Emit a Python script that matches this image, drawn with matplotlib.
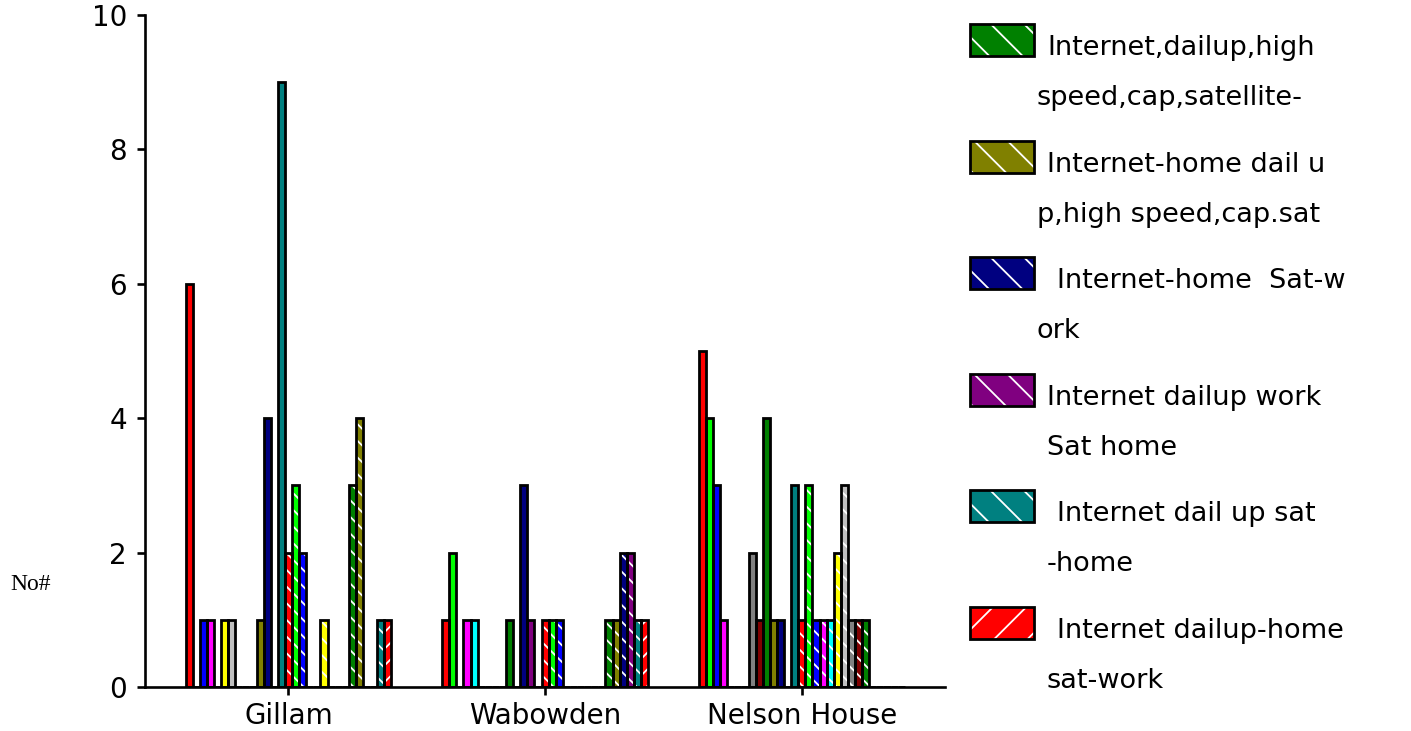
import numpy as np
import matplotlib
matplotlib.use("Agg")
import matplotlib.pyplot as plt
from matplotlib.patches import Rectangle

categories = ["Gillam", "Wabowden", "Nelson House"]

# one value per series (29 series, Excel order), zeros are simply not visible
gillam   = [6, 0, 1, 1, 0, 1, 1, 0, 0, 0, 1, 4, 0, 9,
            2, 3, 2, 0, 0, 1, 0, 0, 0, 3, 4, 0, 0, 1, 1]
wabowden = [1, 2, 0, 1, 1, 0, 0, 0, 0, 1, 0, 3, 1, 0,
            1, 1, 1, 0, 0, 0, 0, 0, 0, 1, 1, 2, 2, 1, 1]
nelson   = [5, 4, 3, 1, 0, 0, 0, 2, 1, 4, 1, 1, 0, 3,
            1, 3, 1, 1, 1, 2, 3, 1, 1, 1, 0, 0, 0, 0, 0]

# only the last six series show up in the legend of the original
legend_lines = [
    ("Internet,dailup,high", "speed,cap,satellite-"),
    ("Internet-home dail u", "p,high speed,cap.sat"),
    ("Internet-home  Sat-w", "ork"),
    ("Internet dailup work", "Sat home"),
    ("Internet dail up sat", "-home"),
    ("Internet dailup-home", "sat-work"),
]

# old Excel palette, solid set then the same colours hatched, last one hatched the other way
base = ["#FF0000", "#00FF00", "#0000FF", "#FF00FF", "#00FFFF", "#FFFF00", "#C0C0C0",
        "#808080", "#800000", "#008000", "#808000", "#000080", "#800080", "#008080"]
colors = base + base + ["#FF0000"]
hatches = [None] * 14 + ["\\\\"] * 14 + ["//"]

plt.rcParams["font.family"] = ["DejaVu Sans"]
plt.rcParams["hatch.linewidth"] = 1.3

fig = plt.figure(figsize=(14.11, 7.31), dpi=100)
ax = fig.add_axes([145 / 1411, 1 - 687 / 731, 800 / 1411, 672 / 731])

vals = np.array([gillam, wabowden, nelson])  # shape (3, 29)
n = vals.shape[1]
w = 0.02766
x = np.arange(len(categories))
for k in range(n):
    xs = x + (k - (n - 1) / 2) * w
    ax.bar(xs, vals[:, k], w, color=colors[k], lw=0, zorder=2)
    if hatches[k]:
        ax.bar(xs, vals[:, k], w, facecolor="none", edgecolor="white",
               hatch=hatches[k], lw=0, zorder=3)
    ax.bar(xs, vals[:, k], w, facecolor="none", edgecolor="black", lw=2.0, zorder=4)

ax.set_xlim(-0.559, 2.558)
ax.set_ylim(0, 10)
ax.set_yticks([0, 2, 4, 6, 8, 10])
ax.set_xticks(x)
ax.set_xticklabels(categories)
for s in ["top", "right"]:
    ax.spines[s].set_visible(False)
for s in ["left", "bottom"]:
    ax.spines[s].set_linewidth(1.9)
    ax.spines[s].set_zorder(5)
ax.tick_params(axis="y", length=6, width=1.9, labelsize=20, pad=7)
ax.tick_params(axis="x", length=6, width=1.9, labelsize=20, pad=5)

fig.text(10 / 1411, 1 - 585 / 731, "No#", family="Liberation Serif", fontsize=17,
         va="center", ha="left")

# legend drawn by hand so the wrapped labels sit like the original
for i, (l1, l2) in enumerate(legend_lines):
    k = n - 6 + i
    yc = 40 + i * 116.6
    for fc, ec, h, lw in [(colors[k], "none", None, 0),
                          ("none", "white", hatches[k][0], 0),
                          ("none", "black", None, 2.0)]:
        fig.patches.append(Rectangle((970 / 1411, 1 - (yc + 16) / 731), 64 / 1411, 32 / 731,
                                     transform=fig.transFigure, facecolor=fc,
                                     edgecolor=ec, hatch=h, lw=lw))
    x1 = 1057 if i in (2, 4, 5) else 1047
    x2 = 1047 if i >= 3 else 1037
    fig.text(x1 / 1411, 1 - (yc + 8) / 731, l1, fontsize=19.5, va="center", ha="left")
    fig.text(x2 / 1411, 1 - (yc + 58) / 731, l2, fontsize=19.5, va="center", ha="left")

fig.savefig("out.png", dpi=100)
